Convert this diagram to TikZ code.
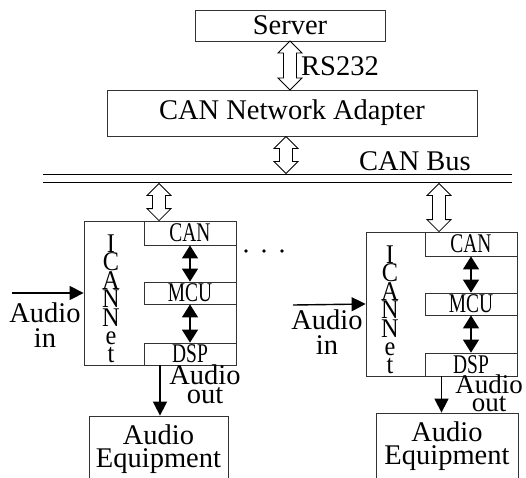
\documentclass[tikz,border=0pt]{standalone}
\usepackage{fontspec}
\setmainfont{Liberation Serif}
\newfontfamily\narrowfont[FakeStretch=0.72]{Liberation Serif}
\newfontfamily\stackfont[FakeStretch=0.9]{Liberation Serif}
\usetikzlibrary{arrows.meta, calc}

\tikzset{
  box/.style={draw=black!80, line width=0.8pt, inner sep=0pt, align=center,
    font=\fontsize{28.5}{23}\selectfont},
  unit/.style={draw=black!80, line width=0.8pt, inner sep=0pt, minimum width=92pt,
    font=\narrowfont\fontsize{27}{27}\selectfont},
  stack/.style={inner sep=0pt, align=center, font=\stackfont\fontsize{27}{18.4}\selectfont},
  lbl/.style={inner sep=0pt, align=center, font=\fontsize{28.5}{25}\selectfont},
  sig/.style={line width=1.4pt, -{Triangle[length=14pt,width=14pt]}},
  link/.style={line width=1.4pt, {Triangle[length=13pt,width=16pt]}-{Triangle[length=13pt,width=16pt]}},
  bus/.style={line width=1.8pt}
}
% hollow two-way arrow, from a top point to a bottom point
\newcommand{\hollowarr}[2]{%
  \draw[line width=0.8pt, fill=white] (#1) -- ++(12pt,-12pt) -- ++(-5.5pt,0pt)
    -- ($(#2)+(6.5pt,12pt)$) -- ++(5.5pt,0pt) -- (#2) -- ++(-12pt,12pt) -- ++(5.5pt,0pt)
    -- ($(#1)+(-6.5pt,-12pt)$) -- ++(-5.5pt,0pt) -- cycle;}

\begin{document}
\begin{tikzpicture}[x=1pt, y=-1pt]
    \useasboundingbox (0,0) rectangle (526,477);

    % Server and adapter
    \node[box, minimum width=190pt, minimum height=31pt] (server) at (290,25.5) {Server};
    \node[box, minimum width=370pt, minimum height=46pt] (adapter) at (292,113) {CAN Network Adapter};
    \coordinate (rsTop) at (290,41);
    \coordinate (rsBot) at (290,90);
    \hollowarr{rsTop}{rsBot}
    \node[lbl, anchor=west] (rs) at (301,66.5) {RS232};

    % CAN bus
    \coordinate (busL1) at (43,174.5);
    \coordinate (busR1) at (512,174.5);
    \coordinate (busL2) at (43,182.5);
    \coordinate (busR2) at (512,182.5);
    \draw[bus] (busL1) -- (busR1);
    \draw[bus] (busL2) -- (busR2);
    \node[lbl] (busname) at (415,161.5) {CAN Bus};
    \coordinate (tapA) at (286,136.5);
    \coordinate (tapB) at (286,173.5);
    \hollowarr{tapA}{tapB}

    % First ICANNet module
    \node[box, minimum width=152pt, minimum height=144pt] (mod1) at (160,293) {};
    \node[unit, minimum height=24pt] (can1) at (190,233) {CAN};
    \node[unit, minimum height=22pt] (mcu1) at (190,293) {MCU};
    \node[unit, minimum height=22pt] (dsp1) at (190,354) {DSP};
    \node[stack] (icn1) at (111,299) {I\\C\\A\\N\\N\\e\\t};
    \draw[link] (can1.south) -- (mcu1.north);
    \draw[link] (mcu1.south) -- (dsp1.north);
    \coordinate (tap1) at (159,183.5);
    \hollowarr{tap1}{mod1.north -| tap1}
    \coordinate (in1) at (12,293);
    \draw[sig] (in1) -- (mod1.west);
    \node[lbl] (inlbl1) at (45,325) {Audio\\in};
    \node[box, minimum width=139pt, minimum height=66pt] (eq1) at (158.5,449) {Audio\\Equipment};
    \draw[sig] (mod1.south) -- (mod1.south |- eq1.north);
    \node[lbl, font=\fontsize{28.5}{19}\selectfont] (outlbl1) at (205,384) {Audio\\out};

    % dots between modules
    \foreach \dx in {246,264,282}
        \fill (\dx,251) circle (1.8pt);

    % Second ICANNet module
    \node[box, minimum width=151pt, minimum height=144pt] (mod2) at (441.5,304) {};
    \node[unit, minimum height=24pt] (can2) at (471,244) {CAN};
    \node[unit, minimum height=22pt] (mcu2) at (471,304) {MCU};
    \node[unit, minimum height=23pt] (dsp2) at (471,364.5) {DSP};
    \node[stack] (icn2) at (390,310) {I\\C\\A\\N\\N\\e\\t};
    \draw[link] (can2.south) -- (mcu2.north);
    \draw[link] (mcu2.south) -- (dsp2.north);
    \coordinate (tap2) at (439,183.5);
    \hollowarr{tap2}{mod2.north -| tap2}
    \coordinate (in2) at (293,305);
    \draw[sig] (in2) -- (mod2.west);
    \node[lbl] (inlbl2) at (327,332) {Audio\\in};
    \node[box, minimum width=142pt, minimum height=67pt] (eq2) at (447,446.5) {Audio\\Equipment};
    \draw[sig] (mod2.south) -- (mod2.south |- eq2.north);
    \node[lbl, font=\fontsize{27}{18}\selectfont] (outlbl2) at (489,393) {Audio\\out};
\end{tikzpicture}
\end{document}
